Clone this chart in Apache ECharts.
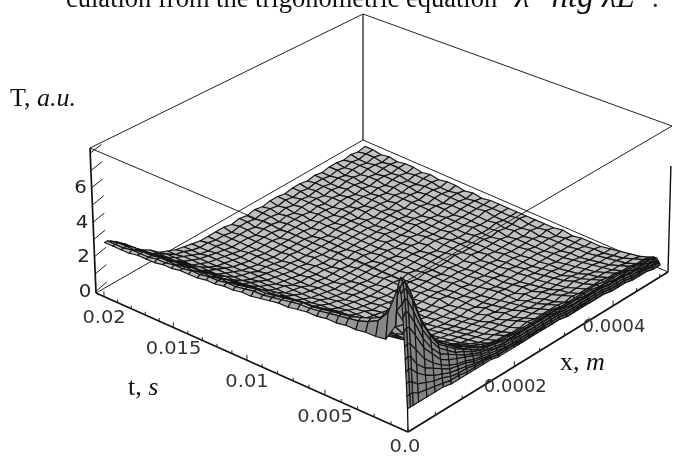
<!DOCTYPE html>
<html><head><meta charset="utf-8">
<style>html,body{margin:0;padding:0;background:#fff}#c{width:673px;height:456px}</style>
<script src="https://cdn.jsdelivr.net/npm/echarts@6/dist/echarts.min.js"></script>
</head><body><div id="c"></div>
<script>
const tNodes=[0,2e-5,4e-5,6e-5,8e-5,1e-4,1.3e-4,1.6e-4,2e-4,2.5e-4,3e-4,4e-4,.0006,.0012,.0018,.0024,.003,.0036,.0042,.0048,.0054,.006,.0066,.0072,.0078,.0084,.009,.0096,.0102,.0108,.0114,.012,.0126,.0132,.0138,.0144,.015,.0156,.0162,.0168,.0174,.018,.0186,.0192,.0198];
const xNodes=[0,5e-6,1e-5,2e-5,3.5e-5,5e-5,6.5e-5,8e-5,9.5e-5,1.1e-4,1.25e-4,1.4e-4,1.55e-4,1.7e-4,1.85e-4,2e-4,2.15e-4,2.3e-4,2.45e-4,2.6e-4,2.75e-4,2.9e-4,3.05e-4,3.2e-4,3.35e-4,3.5e-4,3.65e-4,3.8e-4,3.95e-4,4.1e-4,4.25e-4,4.4e-4,4.55e-4,4.7e-4,4.85e-4,5e-4];
const surfaceT=[
[1.2,1.2,1.2,1.2,1.2,1.2,1.2,1.1,1.1,1.1,1.1,1.1,1.1,1.0,1.0,1.0,1.0,1.0,1.0,1.0,1.0,1.0,.9,.9,.9,.9,.9,.9,.8,.8,.8,.7,.7,.7,.6,.6],
[1.9,1.9,1.9,1.7,1.6,1.5,1.4,1.3,1.3,1.2,1.2,1.2,1.2,1.1,1.1,1.1,1.0,1.0,1.1,1.0,1.0,1.0,.9,.9,1.0,.9,.9,.9,.8,.8,.8,.7,.7,.7,.6,.6],
[2.6,2.6,2.5,2.2,2.0,1.8,1.7,1.5,1.4,1.4,1.3,1.3,1.2,1.1,1.1,1.1,1.1,1.1,1.1,1.1,1.1,1.1,1.0,1.0,1.0,1.0,1.0,1.0,.9,.9,.9,.8,.8,.8,.7,.7],
[3.2,3.3,3.2,2.8,2.4,2.1,1.9,1.7,1.6,1.5,1.4,1.3,1.3,1.2,1.2,1.2,1.1,1.1,1.1,1.1,1.1,1.1,1.0,1.0,1.0,1.0,1.0,1.0,.9,.9,.9,.8,.8,.8,.7,.7],
[3.9,4.0,3.9,3.3,2.8,2.5,2.2,1.9,1.8,1.7,1.5,1.4,1.3,1.2,1.2,1.2,1.2,1.2,1.2,1.2,1.2,1.2,1.1,1.1,1.1,1.1,1.1,1.1,1.0,1.0,1.0,.9,.9,.8,.8,.7],
[4.6,4.7,4.6,4.1,3.3,2.8,2.4,2.1,1.9,1.8,1.6,1.5,1.4,1.3,1.2,1.2,1.2,1.2,1.2,1.2,1.2,1.2,1.1,1.1,1.1,1.1,1.1,1.1,1.0,1.0,1.0,.9,.9,.9,.8,.8],
[5.4,5.6,5.5,4.9,3.9,3.3,2.7,2.4,2.2,2.0,1.8,1.6,1.5,1.4,1.3,1.3,1.3,1.3,1.3,1.3,1.3,1.3,1.2,1.2,1.2,1.2,1.2,1.2,1.1,1.1,1.1,1.0,1.0,.9,.9,.8],
[6.2,6.5,6.3,5.6,4.4,3.6,3.0,2.7,2.4,2.1,1.9,1.7,1.6,1.4,1.4,1.4,1.3,1.3,1.3,1.3,1.3,1.3,1.2,1.2,1.2,1.2,1.2,1.2,1.1,1.1,1.1,1.0,1.0,.9,.9,.8],
[6.9,7.2,7.0,6.2,4.9,4.0,3.3,2.9,2.5,2.3,2.0,1.8,1.6,1.5,1.4,1.4,1.4,1.4,1.4,1.4,1.4,1.3,1.3,1.2,1.2,1.2,1.2,1.2,1.1,1.1,1.1,1.0,1.0,1.0,.9,.9],
[7.5,7.7,7.6,6.8,5.3,4.3,3.5,3.1,2.7,2.4,2.1,1.8,1.7,1.6,1.5,1.4,1.4,1.4,1.4,1.4,1.4,1.4,1.3,1.3,1.3,1.2,1.2,1.2,1.2,1.1,1.1,1.1,1.0,1.0,1.0,.9],
[7.8,8.1,7.9,7.1,5.5,4.4,3.6,3.2,2.8,2.4,2.2,1.9,1.7,1.6,1.5,1.5,1.4,1.4,1.4,1.4,1.4,1.4,1.3,1.3,1.3,1.3,1.3,1.2,1.2,1.2,1.2,1.1,1.1,1.0,1.0,.9],
[8.0,8.3,8.1,7.3,5.6,4.5,3.7,3.2,2.8,2.5,2.2,1.9,1.7,1.6,1.5,1.5,1.4,1.4,1.4,1.4,1.4,1.4,1.3,1.3,1.3,1.3,1.3,1.3,1.2,1.2,1.2,1.1,1.1,1.0,1.0,.9],
[5.6,7.6,7.5,6.8,5.3,4.3,3.6,3.1,2.7,2.4,2.1,1.9,1.7,1.5,1.4,1.4,1.3,1.3,1.4,1.3,1.3,1.3,1.3,1.2,1.3,1.2,1.2,1.2,1.2,1.1,1.1,1.0,1.0,.9,.9,.8],
[4.6,6.0,6.2,5.8,4.8,4.1,3.4,2.9,2.6,2.2,1.9,1.7,1.5,1.3,1.2,1.2,1.1,1.1,1.2,1.1,1.1,1.1,1.1,1.0,1.1,1.0,1.0,1.0,1.0,.9,.9,.8,.8,.7,.7,.6],
[4.5,5.3,5.4,5.0,4.4,3.7,3.1,2.7,2.3,2.0,1.7,1.5,1.3,1.2,1.1,1.0,1.0,1.0,1.0,.9,1.0,.9,.9,.9,.9,.9,.8,.9,.8,.8,.7,.7,.6,.6,.5,.5],
[4.5,5.0,5.1,4.8,4.2,3.5,3.0,2.5,2.2,1.9,1.6,1.4,1.2,1.1,1.0,.9,.9,.9,.8,.9,.8,.8,.8,.7,.8,.7,.7,.7,.7,.6,.6,.6,.5,.5,.4,.4],
[4.4,4.8,4.9,4.6,4.0,3.4,2.9,2.4,2.1,1.8,1.5,1.3,1.1,1.0,.9,.8,.8,.7,.8,.7,.7,.7,.6,.7,.6,.6,.6,.6,.5,.5,.5,.5,.4,.4,.3,.3],
[4.4,4.7,4.7,4.5,3.9,3.3,2.8,2.3,2.0,1.7,1.4,1.2,1.0,.9,.8,.7,.7,.6,.6,.7,.6,.6,.6,.5,.6,.5,.5,.5,.5,.4,.4,.4,.3,.3,.3,.2],
[4.3,4.6,4.6,4.4,3.8,3.2,2.7,2.2,1.9,1.6,1.3,1.1,.9,.8,.7,.6,.6,.5,.6,.5,.5,.5,.6,.5,.5,.4,.5,.4,.4,.4,.3,.3,.3,.3,.2,.2],
[4.3,4.5,4.5,4.3,3.7,3.1,2.6,2.2,1.8,1.5,1.2,1.0,.9,.7,.6,.6,.5,.5,.5,.5,.5,.4,.5,.4,.4,.4,.4,.4,.3,.3,.3,.3,.2,.2,.2,.2],
[4.2,4.4,4.4,4.2,3.6,3.0,2.5,2.1,1.7,1.4,1.2,1.0,.8,.7,.6,.5,.5,.5,.4,.5,.4,.4,.4,.4,.4,.3,.4,.3,.3,.3,.3,.2,.2,.2,.2,.1],
[4.2,4.3,4.3,4.1,3.6,3.0,2.5,2.0,1.7,1.4,1.1,.9,.8,.6,.6,.5,.4,.4,.5,.4,.4,.4,.3,.4,.3,.3,.3,.3,.3,.2,.3,.2,.2,.2,.1,.2],
[4.1,4.3,4.3,4.0,3.5,2.9,2.4,2.0,1.6,1.3,1.1,.9,.7,.6,.5,.5,.4,.4,.4,.4,.3,.4,.3,.3,.3,.3,.3,.2,.3,.2,.2,.2,.2,.1,.2,.1],
[4.0,4.2,4.2,4.0,3.4,2.9,2.4,1.9,1.6,1.3,1.0,.8,.7,.6,.5,.4,.4,.3,.4,.3,.3,.3,.3,.3,.2,.3,.2,.3,.2,.2,.2,.2,.1,.2,.1,.1],
[4.0,4.1,4.1,3.9,3.4,2.8,2.3,1.9,1.5,1.2,1.0,.8,.7,.5,.5,.4,.3,.3,.3,.3,.3,.3,.2,.3,.2,.2,.3,.2,.2,.2,.2,.1,.2,.1,.1,.1],
[3.9,4.0,4.0,3.8,3.3,2.8,2.3,1.8,1.5,1.2,1.0,.8,.6,.5,.4,.4,.3,.3,.3,.3,.2,.3,.2,.2,.2,.3,.2,.2,.2,.2,.1,.2,.1,.1,.2,.1],
[3.8,3.9,3.9,3.7,3.2,2.7,2.2,1.8,1.4,1.1,.9,.7,.6,.5,.4,.3,.3,.3,.3,.2,.3,.2,.2,.2,.2,.2,.2,.2,.1,.2,.1,.1,.2,.1,.1,.1],
[3.7,3.9,3.9,3.7,3.2,2.7,2.2,1.7,1.4,1.1,.9,.7,.6,.4,.4,.3,.3,.2,.3,.2,.2,.2,.2,.2,.2,.1,.2,.2,.1,.1,.2,.1,.1,.1,.1,.1],
[3.7,3.8,3.8,3.6,3.1,2.6,2.1,1.7,1.3,1.1,.8,.7,.5,.4,.3,.3,.3,.2,.2,.2,.2,.2,.2,.2,.1,.2,.2,.1,.2,.1,.1,.1,.1,.2,.1,.1],
[3.6,3.7,3.7,3.5,3.0,2.5,2.1,1.6,1.3,1.0,.8,.6,.5,.4,.3,.3,.2,.2,.2,.2,.2,.2,.1,.2,.2,.1,.2,.1,.1,.1,.1,.1,.1,.1,.1,.1],
[3.6,3.7,3.6,3.4,3.0,2.5,2.0,1.6,1.3,1.0,.8,.6,.5,.4,.3,.2,.2,.2,.2,.2,.1,.2,.2,.1,.1,.2,.1,.1,.1,.1,.1,.0,.1,.1,.1,.0],
[3.5,3.6,3.6,3.4,2.9,2.4,2.0,1.6,1.2,1.0,.7,.6,.5,.3,.3,.2,.2,.2,.1,.2,.2,.1,.1,.2,.1,.1,.1,.2,.1,.1,.0,.1,.1,.1,.0,.1],
[3.5,3.6,3.5,3.3,2.9,2.4,1.9,1.5,1.2,.9,.7,.6,.4,.3,.3,.2,.2,.1,.2,.1,.2,.1,.1,.1,.2,.1,.1,.1,.1,.0,.1,.1,.0,.1,.1,.0],
[3.4,3.5,3.5,3.3,2.8,2.3,1.9,1.5,1.2,.9,.7,.5,.4,.3,.2,.2,.2,.1,.1,.2,.1,.1,.1,.1,.1,.1,.1,.1,.0,.1,.1,.0,.1,.1,.0,.1],
[3.4,3.5,3.4,3.2,2.8,2.3,1.8,1.5,1.1,.9,.7,.5,.4,.3,.2,.2,.1,.2,.1,.1,.1,.1,.1,.1,.1,.0,.1,.1,.1,.0,.1,.0,.1,.1,.0,.1],
[3.4,3.4,3.4,3.2,2.7,2.2,1.8,1.4,1.1,.8,.6,.5,.4,.3,.2,.2,.1,.1,.1,.1,.1,.1,.1,.1,.1,.1,.0,.1,.0,.1,.1,.1,.0,.1,.1,.0],
[3.3,3.4,3.3,3.1,2.7,2.2,1.8,1.4,1.1,.8,.6,.5,.3,.3,.2,.1,.2,.1,.1,.1,.1,.0,.1,.1,.1,.0,.1,.1,.1,.0,.1,.0,.1,.0,.1,.1],
[3.3,3.3,3.3,3.1,2.6,2.2,1.7,1.4,1.0,.8,.6,.4,.3,.2,.2,.1,.1,.1,.1,.1,.0,.1,.1,.0,.1,.1,.1,.0,.1,.1,.0,.1,.1,.0,.1,.0],
[3.2,3.3,3.3,3.0,2.6,2.1,1.7,1.3,1.0,.8,.6,.4,.3,.2,.2,.1,.1,.1,.1,.1,.1,.0,.1,.1,.0,.1,.0,.1,.1,.0,.1,.0,.1,.1,.0,.1],
[3.2,3.2,3.2,3.0,2.5,2.1,1.7,1.3,1.0,.7,.5,.4,.3,.2,.2,.1,.1,.1,.0,.1,.1,.1,.0,.1,.1,.0,.1,.1,.0,.1,.0,.1,.1,.0,.1,.1],
[3.2,3.2,3.2,2.9,2.5,2.0,1.6,1.3,.9,.7,.5,.4,.3,.2,.1,.1,.1,.1,.1,.0,.1,.1,.1,.0,.1,.0,.1,.0,.1,.1,.0,.1,.0,.1,.1,.0],
[3.1,3.2,3.1,2.9,2.5,2.0,1.6,1.2,.9,.7,.5,.4,.3,.2,.1,.1,.1,.0,.1,.1,.0,.1,.0,.1,.1,.1,.0,.1,.0,.1,.1,.0,.1,.1,.0,.1],
[3.1,3.1,3.1,2.9,2.4,2.0,1.6,1.2,.9,.7,.5,.3,.2,.2,.1,.1,.1,.1,.0,.1,.1,.0,.1,.0,.1,.0,.1,.1,.0,.1,.0,.1,.1,.0,.1,.0],
[3.1,3.1,3.1,2.8,2.4,1.9,1.5,1.2,.9,.6,.5,.3,.2,.2,.1,.1,.0,.1,.1,.0,.1,.1,.0,.1,.0,.1,.0,.1,.1,.0,.1,.0,.1,.0,.1,.1],
[3.1,3.1,3.0,2.8,2.4,1.9,1.5,1.2,.8,.6,.4,.3,.2,.1,.1,.1,.1,.0,.1,.0,.1,.0,.1,.1,.0,.1,.1,.0,.1,.0,.1,.1,.0,.1,.0,.1]
];
const tTicks=[0,.005,.01,.015,.02];
const tTickLabels=['0.0','0.005','0.01','0.015','0.02'];
const xTicks=[.0002,.0004];
const xTickLabels=['0.0002','0.0004'];
const zTicks=[0,2,4,6];
const zTickLabels=['0','2','4','6'];
const tMinorTicks=[.001,.002,.003,.004,.006,.007,.008,.009,.011,.012,.013,.014,.016,.017,.018,.019];
const xMinorTicks=[.00005,.0001,.00015,.00025,.0003,.00035,.00045,.0005];
const zMinorTicks=[1,3,5,7,8];

const T_MAX=.0206,X_MAX=.000518,Z_MIN=-.1,Z_MAX=8.3;
const cage={b:[[408,432],[96,293],[668,272],[363,140]],u:[[405,282],[90,148],[672,126],[363,14]]};
function warp(s,a){return s*a/(1+s*(a-1));}
function project(t,x,z){
  const ft=warp(t/T_MAX,1.13),fx=warp(x/X_MAX,1.1),fz=(z-Z_MIN)/(Z_MAX-Z_MIN);
  const bl=c=>[0,1].map(k=>(1-ft)*(1-fx)*c[0][k]+ft*(1-fx)*c[1][k]+(1-ft)*fx*c[2][k]+ft*fx*c[3][k]);
  const a=bl(cage.b),b=bl(cage.u);
  return [a[0]+(b[0]-a[0])*fz,a[1]+(b[1]-a[1])*fz];
}
function edge(a,b,w,col){return {a,b,w,col};}
const tm=T_MAX,xm=X_MAX,zl=Z_MIN,zh=Z_MAX;
const backEdges=[
 edge([tm,xm,zh],[tm,0,zh],1,'#222'),edge([tm,xm,zh],[0,xm,zh],1,'#222'),
 edge([tm,xm,zh],[tm,xm,zl],1.4,'#333'),edge([tm,0,zl],[tm,xm,zl],1,'#222'),
 edge([0,xm,zl],[tm,xm,zl],1,'#222'),edge([0,0,zl],[0,0,zh],1.3,'#111')
];
const frontEdges=[
 edge([tm,0,zh],[0,0,zh],1,'#222'),edge([0,xm,zh],[0,0,zh],1,'#222'),
 edge([tm,0,zl],[tm,0,zh],1.7,'#111'),edge([0,xm,zl],[0,xm,6.0],1.4,'#111'),
 edge([0,0,zl],[tm,0,zl],1.7,'#111'),edge([0,0,zl],[0,xm,zl],1.7,'#111')
];
const tickMarks=[];
tTicks.forEach(t=>tickMarks.push([t,0,zl,t,0,zl+.3]));
tMinorTicks.forEach(t=>tickMarks.push([t,0,zl,t,0,zl+.18]));
xTicks.forEach(x=>tickMarks.push([0,x,zl,0,x,zl+.3]));
xMinorTicks.forEach(x=>tickMarks.push([0,x,zl,0,x,zl+.18]));
zTicks.concat(zMinorTicks).forEach(z=>tickMarks.push([tm,0,z,tm,.00002,z+.18]));

const quads=[];
for(let i=tNodes.length-2;i>=0;i--)for(let j=xNodes.length-2;j>=0;j--)quads.push([i,j]);
function shade(i,j){
  const dt=(tNodes[i+1]-tNodes[i])/T_MAX,dx=(xNodes[j+1]-xNodes[j])/X_MAX;
  const r=surfaceT,k=.35/(Z_MAX-Z_MIN);
  const st=k*((r[i+1][j]+r[i+1][j+1])-(r[i][j]+r[i][j+1]))/2/dt;
  const sx=k*((r[i][j+1]+r[i+1][j+1])-(r[i][j]+r[i+1][j]))/2/dx;
  const nz2=1/(1+st*st+sx*sx);
  const g=Math.round(132+62*nz2);
  return 'rgb('+g+','+g+','+g+')';
}
function seg(api,v,w,col){
  const p=api.coord(project(v[0],v[1],v[2])),q=api.coord(project(v[3],v[4],v[5]));
  return {type:'line',shape:{x1:p[0],y1:p[1],x2:q[0],y2:q[1]},style:{stroke:col,lineWidth:w}};
}
function edgeSeries(list,z){return {type:'custom',coordinateSystem:'cartesian2d',silent:true,clip:false,z,animation:false,
  data:list.map((e,i)=>[i,0]),
  renderItem:(p,api)=>{const e=list[api.value(0)];return seg(api,[...e.a,...e.b],e.w,e.col);}};}
function textSeries(vals,labels,place,font,sx,col,z){return {type:'custom',coordinateSystem:'cartesian2d',silent:true,clip:false,z,animation:false,
  data:vals.map((v,i)=>[i,0]),
  renderItem:(p,api)=>{const i=api.value(0);const q=place(vals[i]);const c=api.coord(q);
    return {type:'text',x:c[0],y:c[1],scaleX:sx,style:{text:labels[i],font,fill:col,align:'center',verticalAlign:'middle'}};}};}
const tickFont='18px "DejaVu Sans"';
const tPlace=t=>{const p=project(t,0,zl);return t===0?[p[0]-3,p[1]+15]:[p[0],p[1]+22];};
const xPlace=x=>{const p=project(0,x,zl);return [p[0]+1,p[1]+21];};
const zPlace=z=>{const p=project(tm,0,z);return [p[0]-11,p[1]+1];};

const serif='"Liberation Serif"';
const axisRich={i:{font:'italic 26px '+serif,fill:'#111'}};
const chart=echarts.init(document.getElementById('c'),null,{renderer:'canvas'});
chart.setOption({
 animation:false,backgroundColor:'#fff',
 grid:{left:0,right:0,top:0,bottom:0},
 xAxis:{type:'value',min:0,max:673,show:false},
 yAxis:{type:'value',min:0,max:456,inverse:true,show:false},
 graphic:[
  {type:'text',left:66,top:-13,silent:true,style:{text:'culation from the trigonometric equation',font:'26.5px '+serif,fill:'#111'}},
  {type:'text',left:515,top:-18,silent:true,style:{text:'λ=ntg λL',font:'italic 33px '+serif,fill:'#111'}},
  {type:'text',left:652,top:-13,silent:true,style:{text:'.',font:'26.5px '+serif,fill:'#111'}},
  {type:'text',left:10,top:86,silent:true,style:{text:'T, {i|a.u.}',font:'26px '+serif,fill:'#111',rich:axisRich}},
  {type:'text',left:128,top:375,silent:true,style:{text:'t, {i|s}',font:'26px '+serif,fill:'#111',rich:axisRich}},
  {type:'text',left:560,top:350,silent:true,style:{text:'x, {i|m}',font:'26px '+serif,fill:'#111',rich:axisRich}}
 ],
 series:[
  edgeSeries(backEdges,1),
  {type:'custom',coordinateSystem:'cartesian2d',silent:true,clip:false,z:2,animation:false,progressive:0,
   data:quads,
   renderItem:(p,api)=>{
     const i=api.value(0),j=api.value(1);
     const pts=[[i,j],[i+1,j],[i+1,j+1],[i,j+1]].map(n=>api.coord(project(tNodes[n[0]],xNodes[n[1]],surfaceT[n[0]][n[1]])));
     return {type:'polygon',shape:{points:pts},style:{fill:shade(i,j),stroke:'#141414',lineWidth:1.15,lineJoin:'round'}};
   }},
  edgeSeries(frontEdges,3),
  {type:'custom',coordinateSystem:'cartesian2d',silent:true,clip:false,z:3,animation:false,
   data:tickMarks,
   renderItem:(p,api)=>seg(api,[0,1,2,3,4,5].map(k=>tickMarks[p.dataIndex][k]),1,'#222')},
  textSeries(tTicks,tTickLabels,tPlace,tickFont,1.08,'#333',4),
  textSeries(xTicks,xTickLabels,xPlace,tickFont,1.0,'#333',4),
  textSeries(zTicks,zTickLabels,zPlace,tickFont,1.1,'#222',4)
 ]
});
</script></body></html>
